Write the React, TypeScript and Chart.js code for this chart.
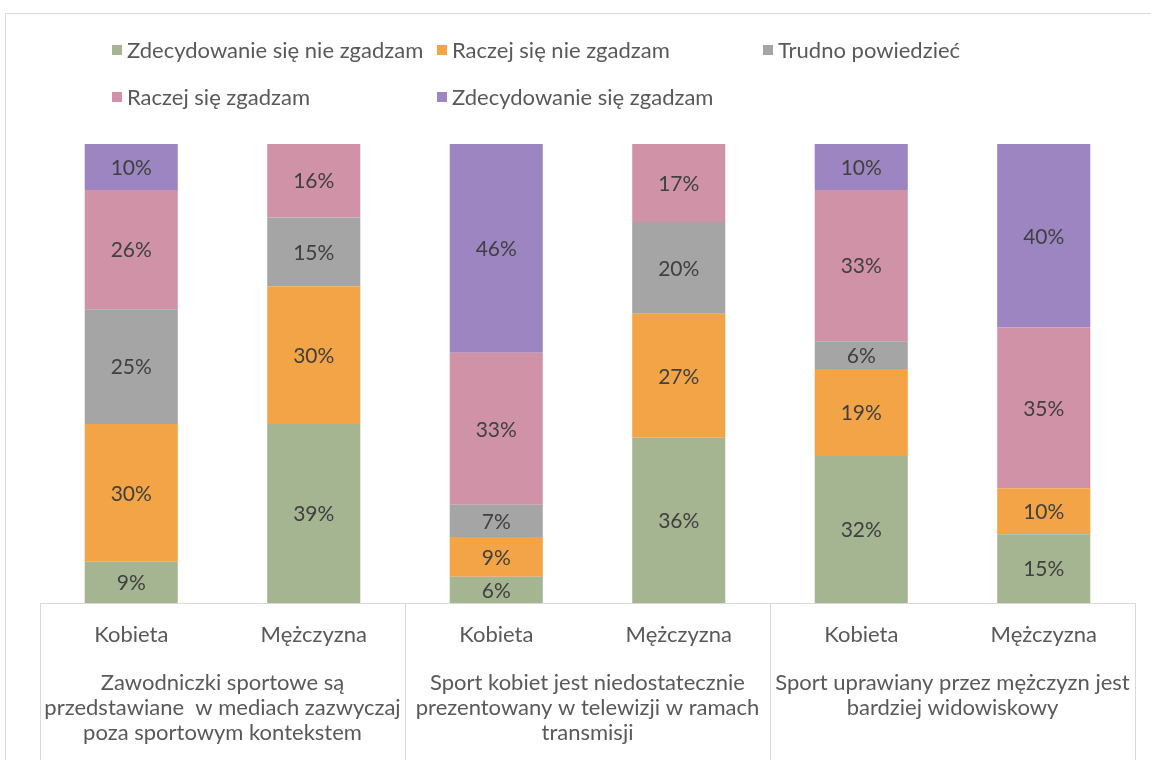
import React, { useEffect, useRef } from "react";
import { Chart, registerables } from "chart.js";

Chart.register(...registerables);

const categories = ["Kobieta", "Mężczyzna", "Kobieta", "Mężczyzna", "Kobieta", "Mężczyzna"];
const groupLabels = [
  ["Zawodniczki sportowe są", "przedstawiane  w mediach zazwyczaj", "poza sportowym kontekstem"],
  ["Sport kobiet jest niedostatecznie", "prezentowany w telewizji w ramach", "transmisji"],
  ["Sport uprawiany przez mężczyzn jest", "bardziej widowiskowy"],
];
const seriesNames = [
  "Zdecydowanie się nie zgadzam",
  "Raczej się nie zgadzam",
  "Trudno powiedzieć",
  "Raczej się zgadzam",
  "Zdecydowanie się zgadzam",
];
const strongDisagree = [9, 39, 5.7, 36, 32, 15];
const ratherDisagree = [30, 30, 8.7, 27, 19, 10];
const hardToSay = [25, 15, 7, 20, 6, 0];
const ratherAgree = [26, 16, 33.1, 17, 33, 35];
const strongAgree = [10, 0, 45.5, 0, 10, 40];
const seriesColors = ["#A5B592", "#F3A447", "#A5A5A5", "#D092A7", "#9C85C0"];

const FONT = "Lato, 'Open Sans', sans-serif";
const FS = 22;
const FS_DATA = 21;
const TEXT = "#595959";

const decorPlugin = {
  id: "decor",
  afterDatasetsDraw(chart: any) {
    const ctx = chart.ctx;
    ctx.save();
    // data labels
    ctx.font = `${FS_DATA}px ${FONT}`;
    ctx.fillStyle = "#404040";
    ctx.textAlign = "center";
    ctx.textBaseline = "middle";
    chart.data.datasets.forEach((ds: any, di: number) => {
      const meta = chart.getDatasetMeta(di);
      meta.data.forEach((el: any, i: number) => {
        const v = ds.data[i];
        if (!v) return;
        ctx.fillText(Math.round(v) + "%", el.x, (el.y + el.base) / 2 + 1);
      });
    });
    ctx.restore();
  },
  afterDraw(chart: any) {
    const ctx = chart.ctx;
    const area = chart.chartArea;
    const xs = chart.scales.x;
    const W = chart.width;
    const H = chart.height;
    ctx.save();
    // outer border
    ctx.strokeStyle = "#D9D9D9";
    ctx.lineWidth = 1;
    ctx.beginPath();
    ctx.moveTo(5.5, H + 5);
    ctx.lineTo(5.5, 13.5);
    ctx.lineTo(W + 5, 13.5);
    ctx.stroke();
    // axis line
    ctx.beginPath();
    ctx.moveTo(area.left, Math.round(area.bottom) + 0.5);
    ctx.lineTo(area.right, Math.round(area.bottom) + 0.5);
    ctx.stroke();
    // group separators
    const n = categories.length;
    const step = (area.right - area.left) / n;
    for (let g = 0; g <= groupLabels.length; g++) {
      const x = Math.round(area.left + g * 2 * step) + 0.5;
      ctx.beginPath();
      ctx.moveTo(x, area.bottom);
      ctx.lineTo(x, H);
      ctx.stroke();
    }
    // category labels
    ctx.font = `${FS}px ${FONT}`;
    ctx.fillStyle = TEXT;
    ctx.textAlign = "center";
    ctx.textBaseline = "middle";
    categories.forEach((c, i) => {
      ctx.fillText(c, xs.getPixelForValue(i), area.bottom + 32);
    });
    groupLabels.forEach((lines, g) => {
      const cx = area.left + (g * 2 + 1) * step;
      lines.forEach((l, li) => {
        ctx.fillText(l, cx, area.bottom + 80 + li * 25);
      });
    });
    // legend
    const colX = [112, 437, 763];
    const rowY = [50, 97];
    chart.data.datasets.forEach((ds: any, i: number) => {
      const x = colX[i % 3];
      const y = rowY[Math.floor(i / 3)];
      ctx.fillStyle = ds.backgroundColor;
      ctx.fillRect(x, y - 5, 10, 10);
      ctx.fillStyle = TEXT;
      ctx.textAlign = "left";
      ctx.fillText(ds.label, x + 15, y + 1);
    });
    ctx.restore();
  },
};

export default function App() {
  const ref = useRef<HTMLCanvasElement | null>(null);
  useEffect(() => {
    if (!ref.current) return;
    const values = [strongDisagree, ratherDisagree, hardToSay, ratherAgree, strongAgree];
    const chart = new Chart(ref.current, {
      type: "bar",
      data: {
        labels: categories,
        datasets: values.map((d, i) => ({
          label: seriesNames[i],
          data: d,
          backgroundColor: seriesColors[i],
          borderWidth: 0,
          categoryPercentage: 1,
          barPercentage: 0.51,
        })),
      },
      options: {
        animation: false,
        responsive: false,
        maintainAspectRatio: false,
        layout: { padding: { left: 40, right: 16, top: 144, bottom: 157 } },
        plugins: { legend: { display: false }, tooltip: { enabled: false } },
        scales: {
          x: { stacked: true, display: false, offset: true },
          y: { stacked: true, display: false, min: 0, max: 100 },
        },
      },
      plugins: [decorPlugin],
    });
    return () => chart.destroy();
  }, []);
  return (
    <div style={{ position: "fixed", left: 0, top: 0, width: 1151, height: 760, background: "#fff" }}>
      <canvas ref={ref} width={1151} height={760} style={{ width: 1151, height: 760, display: "block" }} />
    </div>
  );
}
